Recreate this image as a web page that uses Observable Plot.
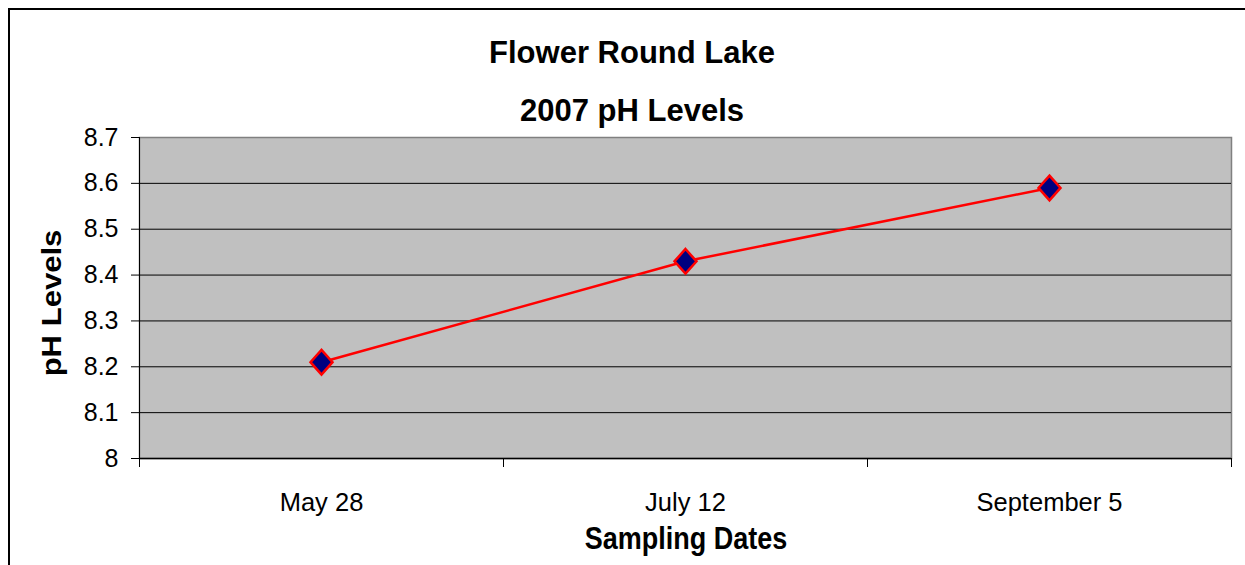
<!DOCTYPE html>
<html>
<head>
<meta charset="utf-8">
<script src="https://cdn.jsdelivr.net/npm/d3@7"></script>
<script src="https://cdn.jsdelivr.net/npm/@observablehq/plot@0.6"></script>
<style>
  body { margin: 0; background: #fff; }
  #wrap { position: relative; width: 1245px; height: 565px; overflow: hidden;
          font-family: "Liberation Sans", Arial, sans-serif; color: #000; }
  #wrap svg { position: absolute; left: 0; top: 0; }
  #border { position: absolute; left: 8px; top: 8px; width: 1400px; height: 700px;
            border-left: 2.5px solid #000; border-top: 2.5px solid #000; }
  .t { position: absolute; font-weight: bold; white-space: nowrap; }
</style>
</head>
<body>
<div id="wrap">
  <div id="border"></div>
</div>
<script>
// ---- data ----
const chartTitle = ["Flower Round Lake", "2007 pH Levels"];
const xTitle = "Sampling Dates";
const yTitle = "pH Levels";
const dates = ["May 28", "July 12", "September 5"];
const phValues = [8.21, 8.43, 8.59];
const yTicks = [8, 8.1, 8.2, 8.3, 8.4, 8.5, 8.6, 8.7];
const gridLevels = [8.1, 8.2, 8.3, 8.4, 8.5, 8.6];

// ---- derived table ----
const data = dates.map((d, i) => ({pos: i + 0.5, date: d, ph: phValues[i]}));
const centers = dates.map((d, i) => i + 0.5);
const bounds = d3.range(dates.length + 1);

const diamond = {
  draw(ctx, size) {
    const r = Math.sqrt(size / Math.PI);
    const w = r, h = r * 1.12;
    ctx.moveTo(0, -h); ctx.lineTo(w, 0); ctx.lineTo(0, h); ctx.lineTo(-w, 0); ctx.closePath();
  }
};

const chart = Plot.plot({
  width: 1245, height: 565,
  marginLeft: 139, marginRight: 14, marginTop: 137, marginBottom: 107,
  style: {fontFamily: '"Liberation Sans", Arial, sans-serif', color: "#000", background: "transparent"},
  x: {type: "linear", domain: [0, dates.length], label: null},
  y: {domain: [8, 8.7], label: null},
  marks: [
    Plot.frame({fill: "#c0c0c0", stroke: "#808080", strokeWidth: 1.5}),
    Plot.ruleY(gridLevels, {stroke: "#000", strokeWidth: 1}),
    Plot.ruleX([0], {stroke: "#000", strokeWidth: 1}),
    Plot.ruleY([8], {stroke: "#000", strokeWidth: 1.5}),
    Plot.axisY({ticks: yTicks, tickSize: 8, tickPadding: 13, tickFormat: d => String(d),
                fontSize: 25, stroke: "#000", label: null}),
    Plot.axisX({ticks: bounds, tickSize: 9, tickFormat: () => "", stroke: "#000", label: null}),
    Plot.axisX({ticks: centers, tickSize: 0, tickPadding: 34,
                tickFormat: d => dates[Math.floor(d)], fontSize: 25.5, label: null}),
    Plot.line(data, {x: "pos", y: "ph", stroke: "#ff0000", strokeWidth: 2.5}),
    Plot.dot(data, {x: "pos", y: "ph", r: 11, symbol: diamond, fill: "#000080",
                    stroke: "#ff0000", strokeWidth: 2.5})
  ]
});

const wrap = document.getElementById("wrap");
wrap.appendChild(chart);

function addText(txt, fs, left, baseline, extra) {
  const el = document.createElement("div");
  el.className = "t";
  el.textContent = txt;
  el.style.fontSize = fs + "px";
  el.style.lineHeight = fs + "px";
  el.style.left = left + "px";
  el.style.top = (baseline - 0.8465 * fs) + "px";
  el.style.transformOrigin = "0 84.65%";
  el.style.transform = "translateX(-50%)" + (extra || "");
  wrap.appendChild(el);
  return el;
}
addText(chartTitle[0], 31, 632, 63);
addText(chartTitle[1], 31, 632, 121);
const xt = addText(xTitle, 27, 686, 550);
xt.style.transformOrigin = "50% 84.65%";
xt.style.transform = "translateX(-50%) scaleY(1.17)";
// rotated y title, centred at (52, 303)
const yt = document.createElement("div");
yt.className = "t";
yt.textContent = yTitle;
yt.style.fontSize = "27px";
yt.style.lineHeight = "27px";
yt.style.left = "52px";
yt.style.top = "303px";
yt.style.transform = "translate(-50%, -50%) rotate(-90deg) scaleX(1.15)";
wrap.appendChild(yt);
</script>
</body>
</html>
